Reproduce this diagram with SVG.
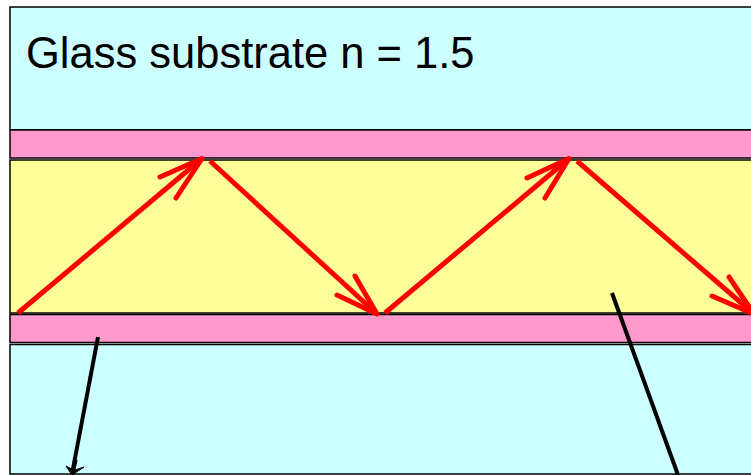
<svg xmlns="http://www.w3.org/2000/svg" width="751" height="475" viewBox="0 0 751 475">
<style>
.layer{stroke:#000;stroke-width:1.5}
.cyan{fill:#CCFFFF}
.pink{fill:#FF99CC}
.yellow{fill:#FFFF99}
.ray{fill:none;stroke:#FF0000;stroke-width:5;stroke-linecap:round;stroke-linejoin:round}
.rayline{fill:none;stroke:#FF0000;stroke-width:5;stroke-linecap:butt}
.blk{fill:none;stroke:#000;stroke-width:4}
.lbl{font-family:"Liberation Sans",Arial,sans-serif;font-size:43.5px;fill:#000}
</style>
<rect x="0" y="0" width="751" height="475" fill="#FFFFFF"/>
<g id="glass-top">
<rect class="layer cyan" x="10" y="7" width="750" height="123"/>
<text class="lbl" x="26" y="68">Glass substrate n = 1.5</text>
</g>
<g id="clad-top"><rect class="layer pink" x="10" y="130" width="750" height="28"/></g>
<g id="core"><rect class="layer yellow" x="10" y="160" width="750" height="153"/></g>
<g id="clad-bottom"><rect class="layer pink" x="10" y="314.5" width="750" height="28"/></g>
<g id="glass-bottom"><rect class="layer cyan" x="10" y="344.5" width="750" height="129.5"/></g>
<g id="connectors">
<line class="rayline" x1="18" y1="313" x2="202" y2="158.5"/>
<polyline class="ray" points="160,177 202,158.5 176,198"/>
<line class="rayline" x1="210" y1="161" x2="377" y2="314"/>
<polyline class="ray" points="337,295 377,314 355,276"/>
<line class="rayline" x1="385" y1="313" x2="569" y2="158.5"/>
<polyline class="ray" points="527,178 569,158.5 545,198"/>
<line class="rayline" x1="577" y1="161" x2="754" y2="314"/>
<polyline class="ray" points="712,296 754,314 729,277"/>
<line class="blk" x1="98" y1="337" x2="72" y2="474"/>
<path d="M72,475 L66,466 L71.5,469 L77,460 L75,470 L84,467 Z" fill="#000" stroke="#000" stroke-width="1"/>
<line class="blk" x1="612" y1="293" x2="678" y2="475"/>
</g>
</svg>
